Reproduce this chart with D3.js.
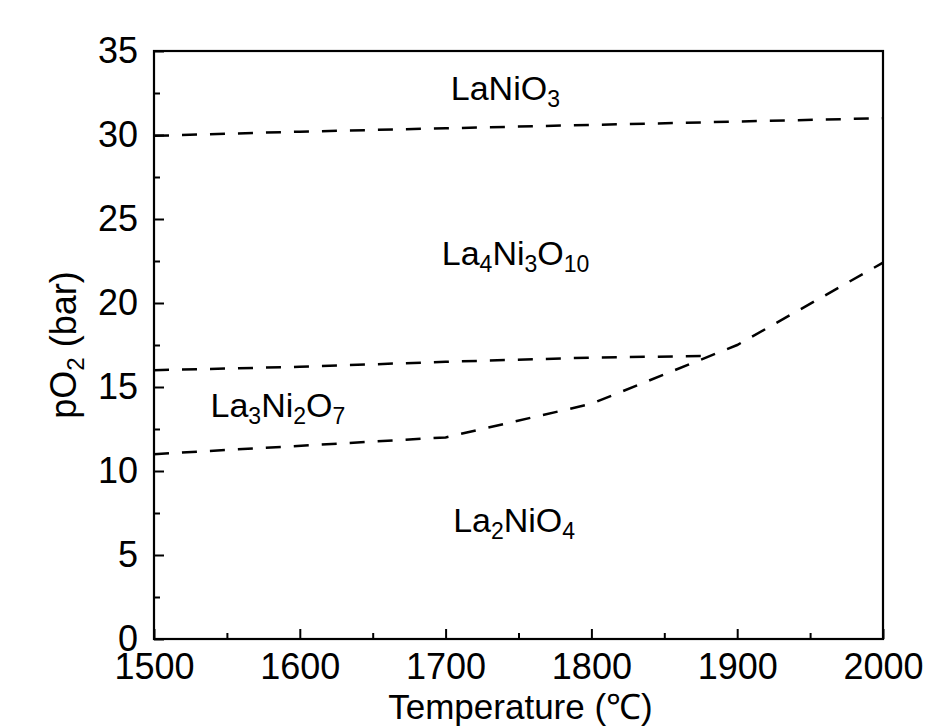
<!DOCTYPE html>
<html>
<head>
<meta charset="utf-8">
<script src="https://cdn.jsdelivr.net/npm/d3@7"></script>
<style>
  body { margin: 0; background: #fff; }
  svg { display: block; font-family: "Liberation Sans", Arial, sans-serif; }
</style>
</head>
<body>
<div id="chart"></div>
<script>
// phase boundaries (temperature in C, pO2 in bar)
const upperTemp = [1500, 1600, 1700, 1800, 1900, 2000];
const upperP    = [29.95, 30.2, 30.4, 30.6, 30.8, 31.0];

const middleTemp = [1500, 1600, 1700, 1800, 1880];
const middleP    = [16.0, 16.2, 16.5, 16.75, 16.85];

const lowerTemp = [1500, 1700, 1800, 1900, 2000];
const lowerP    = [11.0, 12.0, 14.0, 17.5, 22.4];

const xTicks = [1500, 1600, 1700, 1800, 1900, 2000];
const yTicks = [0, 5, 10, 15, 20, 25, 30, 35];

// phase labels: [main, sub, main, sub, ...] at (temp, pO2)
const phaseLabels = [
  {parts: ["LaNiO", "3"], t: 1741, p: 32.1},
  {parts: ["La", "4", "Ni", "3", "O", "10"], t: 1748, p: 22.26},
  {parts: ["La", "3", "Ni", "2", "O", "7"], t: 1585, p: 13.2},
  {parts: ["La", "2", "NiO", "4"], t: 1747, p: 6.37}
];

const width = 929, height = 727;
const margins = {top: 51, right: 46, bottom: 88, left: 154};

const svg = d3.select("#chart")
  .append("svg")
    .attr("width", width)
    .attr("height", height);

const xScale = d3.scaleLinear()
  .domain([1500, 2000])
  .range([margins.left, width - margins.right]);

const yScale = d3.scaleLinear()
  .domain([0, 35])
  .range([height - margins.bottom, margins.top]);

/* minor ticks first, then the major ones */
svg.append("g")
  .attr("transform", `translate(0,${height - margins.bottom})`)
  .call(d3.axisBottom(xScale).tickValues([1550, 1650, 1750, 1850, 1950]).tickSize(-6).tickFormat(""))
  .call(g => g.select(".domain").remove());

svg.append("g")
  .attr("transform", `translate(${margins.left},0)`)
  .call(d3.axisLeft(yScale).tickValues(d3.range(2.5, 35, 5)).tickSize(-6).tickFormat(""))
  .call(g => g.select(".domain").remove());

const xGroup = svg.append("g")
  .attr("transform", `translate(0,${height - margins.bottom})`)
  .call(d3.axisBottom(xScale).tickValues(xTicks).tickSize(-10).tickPadding(14).tickFormat(d3.format("d")));
xGroup.select(".domain").remove();

const yGroup = svg.append("g")
  .attr("transform", `translate(${margins.left},0)`)
  .call(d3.axisLeft(yScale).tickValues(yTicks).tickSize(-10).tickPadding(16));
yGroup.select(".domain").remove();

svg.selectAll(".tick line")
  .attr("stroke", "#000")
  .attr("stroke-width", 2);

svg.selectAll(".tick text")
  .style("font-family", "'Liberation Sans', Arial, sans-serif")
  .style("font-size", "36px")
  .attr("fill", "#000");

// frame
svg.append("rect")
  .attr("x", margins.left)
  .attr("y", margins.top)
  .attr("width", width - margins.left - margins.right)
  .attr("height", height - margins.top - margins.bottom)
  .attr("fill", "none")
  .attr("stroke", "#000")
  .attr("stroke-width", 2.2);

/* dashed boundaries */
const line = d3.line()
  .x(d => xScale(d[0]))
  .y(d => yScale(d[1]));

const boundaries = [
  d3.zip(upperTemp, upperP),
  d3.zip(middleTemp, middleP),
  d3.zip(lowerTemp, lowerP)
];

svg.selectAll("path.boundary")
  .data(boundaries)
  .join("path")
    .attr("class", "boundary")
    .attr("d", d => line(d))
    .attr("fill", "none")
    .attr("stroke", "#000")
    .attr("stroke-width", 2.5)
    .attr("stroke-dasharray", "15,13");

/* phase names with subscripts */
phaseLabels.forEach(lab => {
  const txt = svg.append("text")
    .attr("x", xScale(lab.t))
    .attr("y", yScale(lab.p))
    .attr("text-anchor", "middle")
    .style("font-size", "34px")
    .attr("fill", "#000");
  lab.parts.forEach((s, i) => {
    const sub = i % 2 === 1;
    txt.append("tspan")
      .attr("dy", sub ? 7 : (i > 0 ? -7 : 0))
      .style("font-size", sub ? "23px" : "34px")
      .text(s);
  });
});

// axis titles
svg.append("text")
  .attr("x", (margins.left + width - margins.right) / 2 + 2)
  .attr("y", 719)
  .attr("text-anchor", "middle")
  .style("font-size", "35px")
  .text("Temperature (℃)");

const yTitle = svg.append("text")
  .attr("transform", `translate(76,${(margins.top + height - margins.bottom) / 2}) rotate(-90)`)
  .attr("text-anchor", "middle")
  .style("font-size", "36px");
yTitle.append("tspan").text("pO");
yTitle.append("tspan").attr("dy", 8).style("font-size", "24px").text("2");
yTitle.append("tspan").attr("dy", -8).text(" (bar)");
</script>
</body>
</html>
